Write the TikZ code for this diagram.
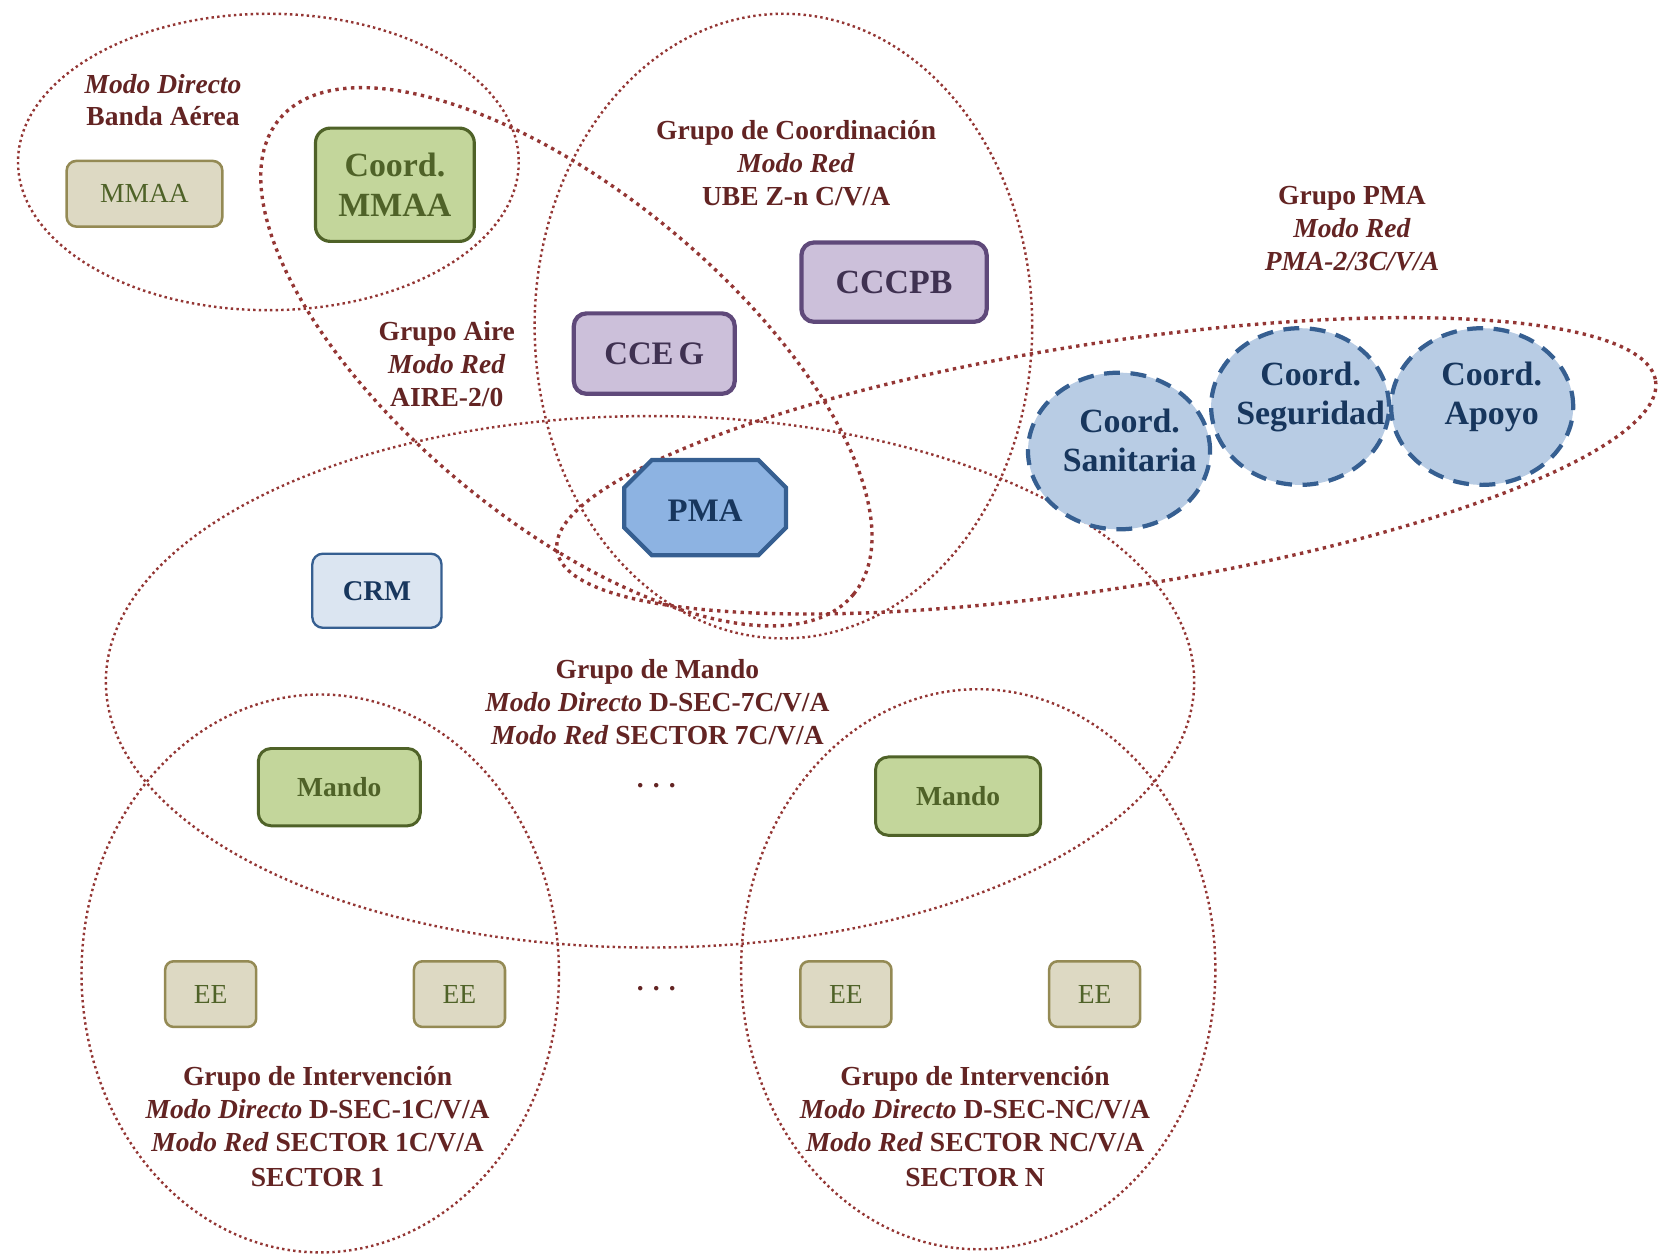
\documentclass[tikz,border=0pt]{standalone}
\usepackage{fontspec}
\setmainfont{Liberation Serif}
\usetikzlibrary{shapes.geometric}
\definecolor{ellc}{HTML}{943634}
\definecolor{lblc}{HTML}{632423}
\definecolor{olfill}{HTML}{DDD9C3}
\definecolor{oldraw}{HTML}{948A54}
\definecolor{oltext}{HTML}{4F6228}
\definecolor{grfill}{HTML}{C3D69B}
\definecolor{grdraw}{HTML}{4F6228}
\definecolor{pufill}{HTML}{CCC0DA}
\definecolor{pudraw}{HTML}{5F497A}
\definecolor{putext}{HTML}{3F3151}
\definecolor{pmafill}{HTML}{8DB3E2}
\definecolor{bldraw}{HTML}{365F91}
\definecolor{bltext}{HTML}{17365D}
\definecolor{crmfill}{HTML}{DBE5F1}
\definecolor{cirfill}{HTML}{B8CCE4}
\begin{document}
\begin{tikzpicture}[x=0.5pt,y=-0.5pt,
  grp/.style={draw=ellc, line width=1.15pt, dash pattern=on 1.15pt off 1.5pt},
  grpthick/.style={draw=ellc, line width=1.6pt, dash pattern=on 1.6pt off 2.1pt},
  lbl/.style={text=lblc, font=\fontsize{13}{15.5}\selectfont\bfseries, align=center, inner sep=0pt},
  tanbox/.style={rectangle, rounded corners=4.5pt, fill=olfill, draw=oldraw, line width=1.2pt, text=oltext, inner sep=0pt, font=\fontsize{13}{15}\selectfont},
  greenbox/.style={rectangle, rounded corners=6pt, fill=grfill, draw=grdraw, line width=1.4pt, text=oltext, inner sep=0pt, align=center},
  purplebox/.style={rectangle, rounded corners=6pt, fill=pufill, draw=pudraw, line width=2pt, text=putext, inner sep=0pt, font=\fontsize{16}{18}\selectfont\bfseries},
  circ/.style={ellipse, fill=cirfill, draw=bldraw, line width=2pt, dash pattern=on 7.5pt off 5pt, inner sep=0pt},
  cirtext/.style={text=bltext, align=center, inner sep=0pt, font=\fontsize{16}{18.5}\selectfont\bfseries}
]
\useasboundingbox (0,0) rectangle (1568,1184);

% group outlines
\draw[grp] (253.5,153) ellipse [x radius=236.5, y radius=140];
\draw[grp] (740,308) ellipse [x radius=235, y radius=295];
\draw[grp] (614,644) ellipse [x radius=514, y radius=251];
\draw[grp] (302.5,919.5) ellipse [x radius=225.5, y radius=263.5];
\draw[grp] (924,915.5) ellipse [x radius=224, y radius=264.5];
\draw[grpthick, rotate around={-39.6:(535,337)}] (535,337) ellipse [x radius=352, y radius=155];
\draw[grpthick, rotate around={8.8:(1045,440)}] (1045,440) ellipse [x radius=525, y radius=116];

% group labels
\node[lbl] (lbanda) at (154,94.5) {\textit{Modo Directo}\\Banda Aérea};
\node[lbl] (lcoord) at (752,154) {Grupo de Coordinación\\\textit{Modo Red}\\UBE Z-n C/V/A};
\node[lbl] (lpma) at (1277,216) {Grupo PMA\\\textit{Modo Red}\\\textit{PMA-2/3C/V/A}};
\node[lbl] (laire) at (422,344) {Grupo Aire\\\textit{Modo Red}\\AIRE-2/0};
\node[lbl] (lmando) at (621,663) {Grupo de Mando\\\textit{Modo Directo} D-SEC-7C/V/A\\\textit{Modo Red} SECTOR 7C/V/A};
\node[lbl] (lint1) at (300,1064) {Grupo de Intervención\\\textit{Modo Directo} D-SEC-1C/V/A\\\textit{Modo Red} SECTOR 1C/V/A\\[1pt]SECTOR 1};
\node[lbl] (lintn) at (921,1064) {Grupo de Intervención\\\textit{Modo Directo} D-SEC-NC/V/A\\\textit{Modo Red} SECTOR NC/V/A\\[1pt]SECTOR N};
\node[lbl] (dots1) at (620,742) {. . .};
\node[lbl] (dots2) at (620,934) {. . .};

% nodes
\node[tanbox, minimum width=73.5pt, minimum height=31pt] (mmaa) at (136.5,183) {MMAA};
\node[greenbox, rounded corners=7pt, line width=1.5pt, minimum width=75pt, minimum height=53.5pt, font=\fontsize{16}{18.5}\selectfont\bfseries] (cmmaa) at (373,174.5) {Coord.\\MMAA};
\node[purplebox, minimum width=87.5pt, minimum height=37.5pt] (cccpb) at (844.5,266.5) {CCCPB};
\node[purplebox, minimum width=76pt, minimum height=38pt, font=\fontsize{15.5}{18}\selectfont\bfseries] (cceg) at (618,334) {CCE\kern-1.5pt\ G};
\node[inner sep=0pt, minimum width=76pt, minimum height=44.5pt] (pma) at (666,479.5) {};
\fill[pmafill] ([xshift=13pt]pma.north west) -- ([xshift=-13pt]pma.north east) -- ([yshift=-13pt]pma.north east) -- ([yshift=13pt]pma.south east) -- ([xshift=-13pt]pma.south east) -- ([xshift=13pt]pma.south west) -- ([yshift=13pt]pma.south west) -- ([yshift=-13pt]pma.north west) -- cycle;
\draw[bldraw, line width=2pt, line join=miter] ([xshift=13pt]pma.north west) -- ([xshift=-13pt]pma.north east) -- ([yshift=-13pt]pma.north east) -- ([yshift=13pt]pma.south east) -- ([xshift=-13pt]pma.south east) -- ([xshift=13pt]pma.south west) -- ([yshift=13pt]pma.south west) -- ([yshift=-13pt]pma.north west) -- cycle;
\node[inner sep=0pt, text=bltext, font=\fontsize{15.5}{18}\selectfont\bfseries] (pmatext) at (666,482) {PMA};
\node[rectangle, rounded corners=5pt, fill=crmfill, draw=bldraw, line width=1.1pt, text=bltext, inner sep=0pt, minimum width=61pt, minimum height=35pt, font=\fontsize{13.5}{16}\selectfont\bfseries] (crm) at (356,558) {CRM};
\node[greenbox, minimum width=76.5pt, minimum height=36.5pt, font=\fontsize{13}{15}\selectfont\bfseries] (mando1) at (320.5,743.5) {Mando};
\node[greenbox, minimum width=78pt, minimum height=37pt, font=\fontsize{13}{15}\selectfont\bfseries] (mando2) at (905,752) {Mando};
\node[tanbox, rounded corners=4pt, minimum width=43pt, minimum height=31pt] (ee1) at (199,939) {EE};
\node[tanbox, rounded corners=4pt, minimum width=43pt, minimum height=31pt] (ee2) at (434,939) {EE};
\node[tanbox, rounded corners=4pt, minimum width=43pt, minimum height=31pt] (ee3) at (799,939) {EE};
\node[tanbox, rounded corners=4pt, minimum width=43pt, minimum height=31pt] (ee4) at (1034,939) {EE};

\node[circ, minimum width=86pt, minimum height=74pt] (san) at (1057,426) {};
\node[circ, minimum width=84pt, minimum height=74pt] (seg) at (1228,384) {};
\node[circ, minimum width=86pt, minimum height=74pt] (apo) at (1400,384) {};
\node[cirtext] (sant) at (1067,416) {Coord.\\Sanitaria};
\node[cirtext] (segt) at (1238,375) {Coord.\\Seguridad};
\node[cirtext] (apot) at (1409,375) {Coord.\\Apoyo};
\end{tikzpicture}
\end{document}
